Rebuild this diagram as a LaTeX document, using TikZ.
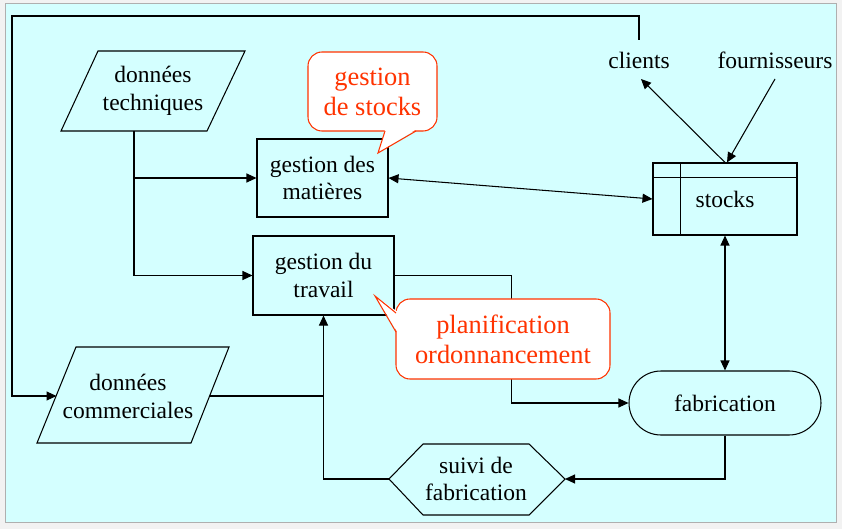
\documentclass[tikz,border=0pt]{standalone}
\usepackage{fontspec}
\setmainfont{Liberation Serif}
\usetikzlibrary{arrows.meta,calc}
\definecolor{bgcyan}{RGB}{212,255,255}
\definecolor{callred}{RGB}{255,51,0}
\definecolor{pagegray}{RGB}{242,242,242}
\definecolor{edgegray}{RGB}{175,175,175}

\begin{document}
\begin{tikzpicture}[x=1bp,y=-1bp,
  line width=1.05bp, line join=miter,
  tip/.style={-{Triangle[length=10bp,width=9bp]}},
  tiptwo/.style={{Triangle[length=10bp,width=9bp]}-{Triangle[length=10bp,width=9bp]}},
  txt/.style={font=\fontsize{23.6}{28}\selectfont, align=center, inner sep=0pt},
  box/.style={txt, draw, rectangle},
  note/.style={draw=callred, fill=white, rounded corners=14bp, text=callred,
    font=\fontsize{26.5}{30}\selectfont, align=center, inner sep=0pt}
]
\useasboundingbox (0,0) rectangle (842,529);
\fill[pagegray] (0,0) rectangle (842,529);
\filldraw[fill=bgcyan, draw=edgegray, line width=1bp] (5,4) rectangle (836,522);

% input documents (parallelograms)
\node[txt] (dt) at (153,91) {données\\techniques};
\draw (98,51) -- (245,51) -- (207,131) -- (61,131) -- cycle;
\coordinate (dtb) at (134,131);

\node[txt] (dc) at (128,396) {données\\commerciales};
\draw (76,347) -- (229,347) -- (191,443) -- (37,443) -- cycle;
\coordinate (dcw) at (56.5,396);
\coordinate (dce) at (210,396);

% processes
\node[box, minimum width=131bp, minimum height=78bp] (gdm) at (322.5,178) {gestion des\\matières};
\node[box, minimum width=141bp, minimum height=79bp] (gdt) at (323.5,275.5) {gestion du\\travail};

% data store
\node[box, minimum width=144bp, minimum height=72bp] (stk) at (725,199) {stocks};
\draw ([yshift=-15bp]stk.north west) -- ([yshift=-15bp]stk.north east);
\draw ([xshift=28bp]stk.north west) -- ([xshift=28bp]stk.south west);

% terminal
\node[box, rounded corners=32bp, minimum width=192bp, minimum height=64bp] (fab) at (725,403) {fabrication};

% follow-up (hexagon)
\node[txt] (sv) at (476,479) {suivi de\\fabrication};
\draw (389,479) -- (423,444) -- (529,444) -- (565,479) -- (529,515) -- (423,515) -- cycle;
\coordinate (svw) at (389,479);
\coordinate (sve) at (565,479);

% external partners
\node[txt] (cli) at (639,60) {clients};
\node[txt] (fou) at (775,60) {fournisseurs};

% connectors
\draw[tip] (dtb) |- (gdt.west);
\draw[tip] (dtb |- gdm.west) -- (gdm.west);
\draw[tiptwo] (gdm.east) -- (stk.west);
\draw[tip] (stk.north) -- ($(cli.center)+(2,19)$);
\draw[tip] ($(fou.center)+(0,19)$) -- ([xshift=2bp]stk.north);
\draw[tiptwo] (stk.south) -- (fab.north);
\draw[tip] (gdt.east) -- ++(117,0) |- (fab.west);
\draw[tip] (fab.south) |- (sve);
\draw[tip] (svw) -| (gdt.south);
\draw (dce) -- (dce -| gdt.south);
\draw[tip] ($(cli.center)+(0,-20)$) |- (12,16) |- (dcw);

% callouts
\node[note, minimum width=129bp, minimum height=79bp] (n1) at (372.5,91.5) {gestion\\de stocks};
\fill[white] (385,129.4) -- (378,153) -- (416,129.4) -- cycle;
\draw[callred] (385,131) -- (378,153) -- (416,131);

\node[note, minimum width=214bp, minimum height=80bp] (n2) at (503,339) {planification\\ordonnancement};
\fill[white] (398,312) -- (375,296) -- (398,333) -- cycle;
\draw[callred] (396,313) -- (375,296) -- (396,332);
\end{tikzpicture}
\end{document}
